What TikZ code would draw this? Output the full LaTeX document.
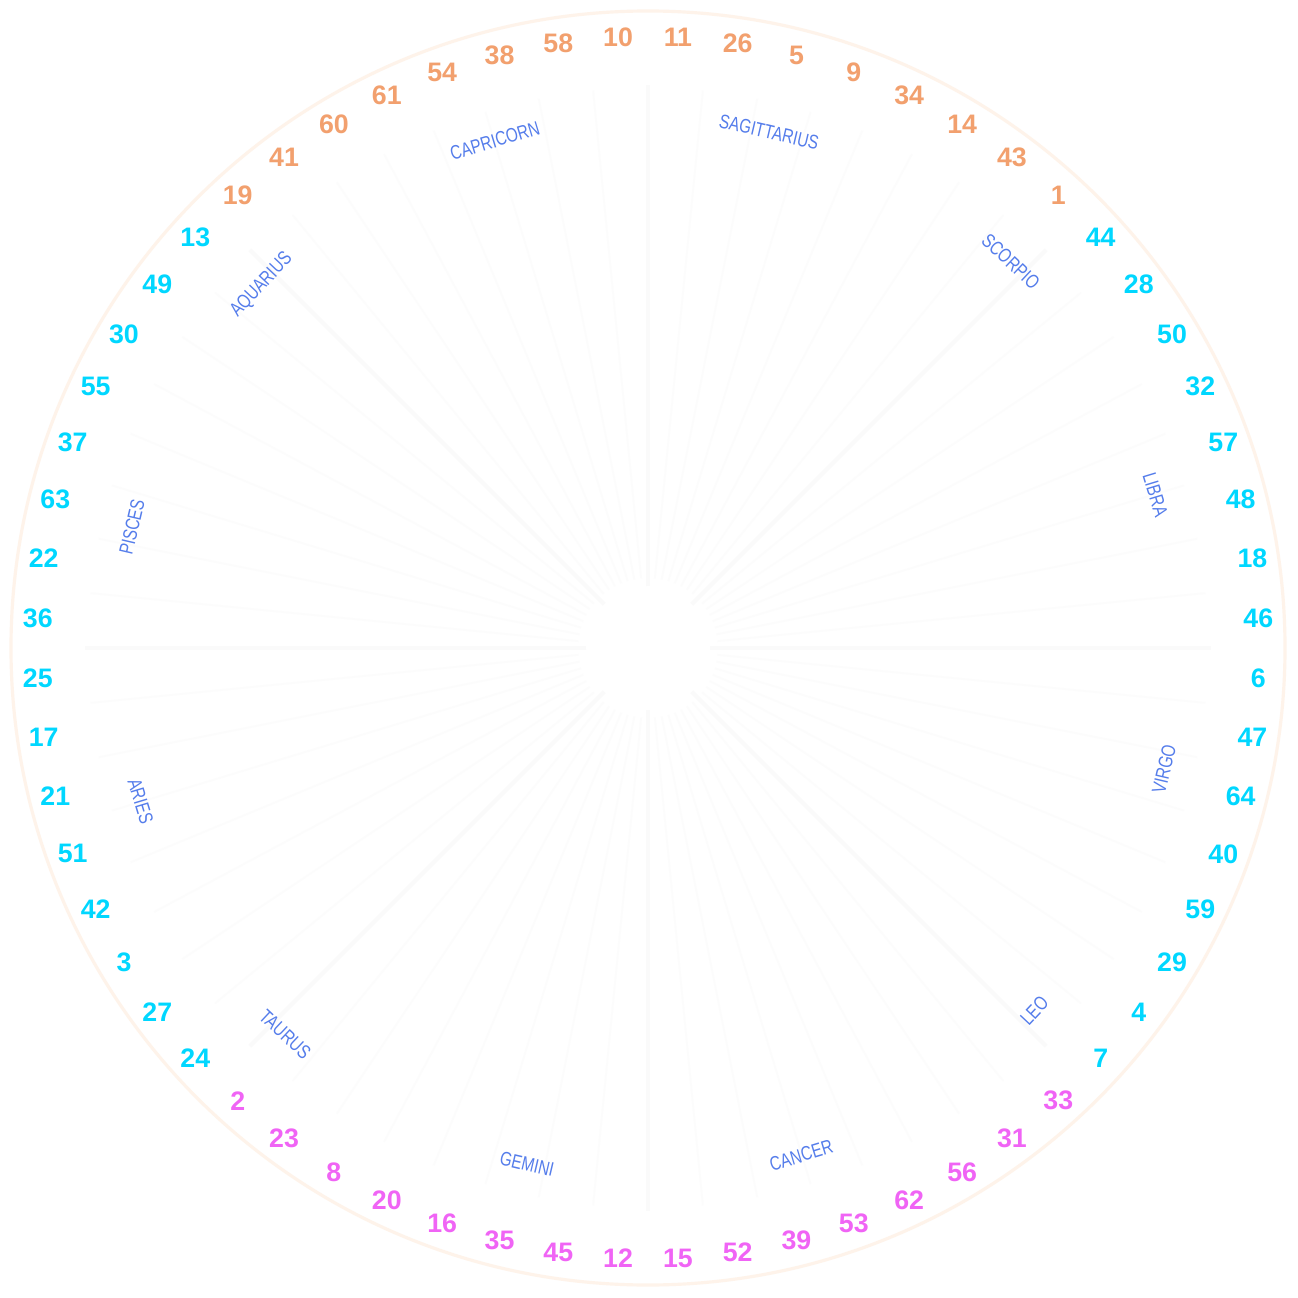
\documentclass[tikz,border=0pt]{standalone}
\usepackage{fontspec}
\setmainfont{Liberation Sans}
\newfontfamily\zfont{Liberation Sans}
\definecolor{numor}{RGB}{242,160,110}
\definecolor{numcy}{RGB}{0,215,255}
\definecolor{nummg}{RGB}{240,100,245}
\definecolor{zblue}{RGB}{85,125,235}
\definecolor{ringc}{RGB}{254,243,234}
\definecolor{spokec}{RGB}{250,250,250}
\definecolor{spokethin}{RGB}{252,252,252}
\tikzset{
  num/.style={font=\fontsize{7.6}{8}\selectfont\bfseries, inner sep=0pt},
  zlab/.style={font=\zfont\fontsize{5.6}{6}\selectfont, inner sep=0pt, text=zblue},
  spoke/.style={draw=spokec, line width=1.2pt},
  thinspoke/.style={draw=spokethin, line width=0.5pt},
  ring/.style={draw=ringc, line width=0.9pt}
}
\begin{document}
\begin{tikzpicture}[x=0.01cm,y=0.01cm]
\fill[white] (-648,-649) rectangle (650,648);
\useasboundingbox (-648,-649) rectangle (650,648);
\coordinate (c) at (0,0);
\draw[ring] (c) circle (637);
% thin spokes at number boundaries
\foreach \i in {0,...,63} {
  \pgfmathsetmacro\a{90-5.625*\i}
  \coordinate (ti\i) at (\a:70);
  \coordinate (to\i) at (\a:560);
  \draw[thinspoke] (ti\i) -- (to\i);
}
% main spokes
\foreach \i in {0,...,7} {
  \pgfmathsetmacro\a{90-45*\i}
  \coordinate (mi\i) at (\a:62);
  \coordinate (mo\i) at (\a:563);
  \draw[spoke] (mi\i) -- (mo\i);
}
% numbers
\foreach \n [count=\i from 0] in {11,26,5,9,34,14,43,1,44,28,50,32,57,48,18,46,6,47,64,40,59,29,4,7,33,31,56,62,53,39,52,15,12,45,35,16,20,8,23,2,24,27,3,42,51,21,17,25,36,22,63,37,55,30,49,13,19,41,60,61,54,38,58,10} {
  \pgfmathsetmacro\ang{90-2.8125-5.625*\i}
  \ifnum\i<8 \def\col{numor}\else
  \ifnum\i<24 \def\col{numcy}\else
  \ifnum\i<40 \def\col{nummg}\else
  \ifnum\i<56 \def\col{numcy}\else
  \def\col{numor}\fi\fi\fi\fi
  \node[num, text=\col] (n\i) at (\ang:611) {\n};
}
% zodiac labels
\foreach \z [count=\k from 0] in {SAGITTARIUS,SCORPIO,LIBRA,VIRGO,LEO,CANCER,GEMINI,TAURUS,ARIES,PISCES,AQUARIUS,CAPRICORN} {
  \pgfmathsetmacro\th{13.2+30*\k}
  \pgfmathtruncatemacro\flip{(\th>90)*(\th<270)}
  \ifnum\flip=1 \pgfmathsetmacro\rot{180-\th}\else\pgfmathsetmacro\rot{-\th}\fi
  \node[zlab, rotate=\rot] (z\k) at (90-\th:530) {\scalebox{0.78}[1]{\z}};
}
\end{tikzpicture}
\end{document}
